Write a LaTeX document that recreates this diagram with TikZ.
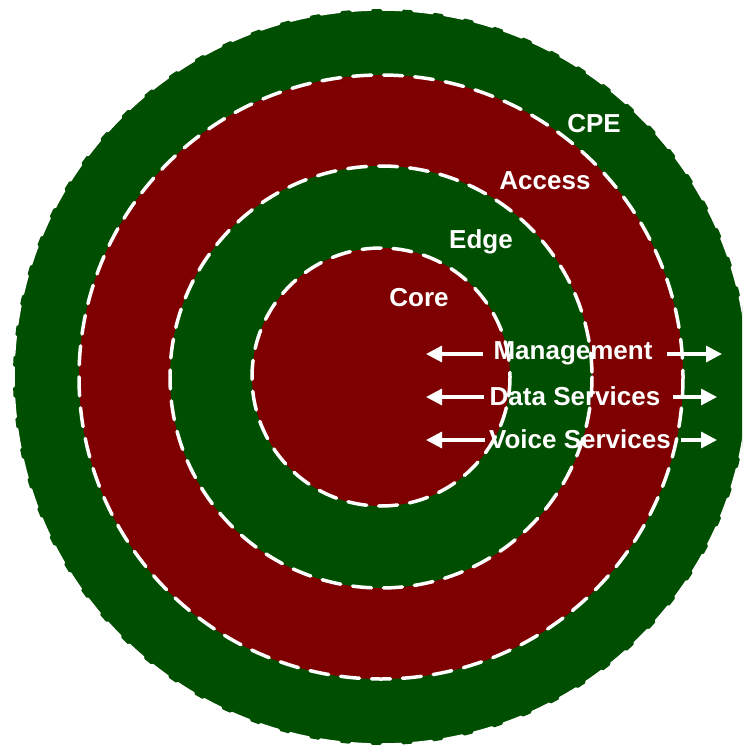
\documentclass[tikz,border=0pt]{standalone}
\usepackage{fontspec}
\setmainfont{Liberation Sans}
\usetikzlibrary{arrows.meta}
\definecolor{ringgreen}{RGB}{0,79,0}
\definecolor{ringred}{RGB}{127,0,0}
\tikzset{
  ring/.style={draw=white, line width=3.5pt, dash pattern=on 19pt off 12pt, line cap=round},
  lab/.style={text=white, font=\fontsize{26}{31}\selectfont\bfseries, inner sep=0pt},
  arr/.style={white, line width=3.2pt, -{Triangle[length=16pt,width=16pt]}}
}
\begin{document}
\begin{tikzpicture}[x=1pt,y=-1pt]
\useasboundingbox (0,0) rectangle (742,749);
\clip (0,0) rectangle (742,749);
\coordinate (c) at (381,377);
\path[ring, fill=ringgreen] (c) circle[radius=368];
\path[ring, fill=ringred] (c) circle[radius=302];
\path[ring, fill=ringgreen] (c) circle[radius=211];
\path[ring, fill=ringred] (c) circle[radius=129];
\node[lab] (cpe) at (594,124) {CPE};
\node[lab] (access) at (545,181) {Access};
\node[lab] (edge) at (481,242) {Edge};
\node[lab] (core) at (419,298) {Core};
\node[lab] (mgmt) at (573,353) {Management};
\node[lab] (data) at (575,396) {Data Services};
\node[lab] (voice) at (580,439) {Voice Services};
\coordinate (ml) at (426,354);
\coordinate (mr) at (722,354);
\coordinate (dl) at (426,397);
\coordinate (dr) at (717,397);
\coordinate (vl) at (426,440);
\coordinate (vr) at (717,440);
\draw[arr] ([xshift=-10pt]mgmt.west |- ml) -- (ml);
\draw[arr] ([xshift=14pt]mgmt.east |- mr) -- (mr);
\draw[arr] ([xshift=-6pt]data.west |- dl) -- (dl);
\draw[arr] ([xshift=13pt]data.east |- dr) -- (dr);
\draw[arr] ([xshift=-4pt]voice.west |- vl) -- (vl);
\draw[arr] ([xshift=10pt]voice.east |- vr) -- (vr);
\end{tikzpicture}
\end{document}
